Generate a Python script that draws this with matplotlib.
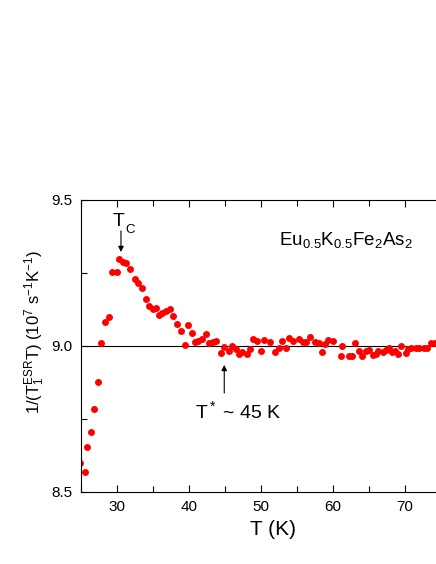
import numpy as np
import matplotlib
matplotlib.use('Agg')
import matplotlib.pyplot as plt
from matplotlib.ticker import MultipleLocator

plt.rcParams['font.family'] = ['Liberation Sans', 'DejaVu Sans']
plt.rcParams['mathtext.fontset'] = 'custom'
plt.rcParams['mathtext.rm'] = 'Liberation Sans'
plt.rcParams['mathtext.it'] = 'Liberation Sans'
plt.rcParams['mathtext.default'] = 'regular'

# temperature (K) and 1/(T1 T) in 10^7 s^-1 K^-1
temp = [24.9, 25.5, 25.9, 26.4, 26.8, 27.3, 27.8, 28.3, 28.9, 29.3,
        29.95, 30.3, 30.9, 31.3, 31.8, 32.45, 32.95, 33.5, 34.0, 34.4,
        34.95, 35.4, 35.9, 36.3, 36.8, 37.4, 37.8, 38.3, 38.9, 39.4,
        39.8, 40.4, 40.8, 41.3, 41.8, 42.4, 42.8, 43.3, 43.8, 44.4,
        44.9, 45.5, 46.0, 46.5, 47.0, 47.4, 48.0, 48.5, 48.9, 49.5,
        50.0, 50.4, 51.25, 51.9, 52.5, 52.9, 53.5, 53.9, 54.5, 55.3,
        55.9, 56.3, 56.8, 57.5, 58.05, 58.5, 58.9, 59.35, 59.95, 61.1,
        61.3, 62.2, 62.6, 63.0, 63.6, 64.0, 64.6, 65.0, 65.5, 66.0,
        66.3, 66.9, 67.4, 67.8, 68.2, 68.65, 69.1, 69.5, 70.1, 70.4,
        70.8, 71.5, 72.0, 72.7, 73.1, 73.6, 74.2]
rate = [8.600, 8.567, 8.655, 8.706, 8.785, 8.876, 9.009, 9.083, 9.100, 9.252,
        9.254, 9.298, 9.289, 9.285, 9.263, 9.229, 9.215, 9.200, 9.161, 9.138,
        9.126, 9.129, 9.106, 9.112, 9.120, 9.127, 9.104, 9.074, 9.052, 9.003,
        9.072, 9.043, 9.013, 9.017, 9.025, 9.041, 9.011, 9.015, 9.018, 8.975,
        8.998, 8.984, 9.000, 8.989, 8.973, 8.981, 8.971, 8.989, 9.024, 9.017,
        8.983, 9.021, 9.015, 8.981, 8.994, 9.017, 8.992, 9.026, 9.017, 9.024,
        9.015, 9.013, 9.031, 9.015, 9.009, 8.981, 9.006, 9.021, 9.017, 8.967,
        9.001, 8.967, 8.967, 9.009, 8.983, 8.967, 8.983, 8.986, 8.969, 8.971,
        8.983, 8.978, 8.986, 8.992, 8.981, 8.983, 8.971, 9.001, 8.975, 8.990,
        8.994, 8.994, 8.994, 8.994, 8.992, 9.009, 9.009]

ref_level = 9.0
tc = 30.55
tstar = 44.9

fig = plt.figure(figsize=(4.36, 5.64), dpi=100)
# axes runs off the right edge of the figure like in the original
ax = fig.add_axes([0.1858, 0.1277, 0.875, 0.5177])

ax.axhline(ref_level, color='black', lw=0.8, zorder=1)
ax.plot(temp, rate, 'o', color='#ff0000', ms=5, mec='none', zorder=2)

ax.set_xlim(25, 78)
ax.set_ylim(8.5, 9.5)
ax.xaxis.set_major_locator(MultipleLocator(10))
ax.xaxis.set_minor_locator(MultipleLocator(5))
ax.yaxis.set_major_locator(MultipleLocator(0.5))
ax.yaxis.set_minor_locator(MultipleLocator(0.25))
ax.yaxis.set_major_formatter(matplotlib.ticker.FormatStrFormatter('%.1f'))
ax.tick_params(which='both', direction='in', top=True, right=True,
               width=0.8, labelsize=11, pad=6)
ax.tick_params(which='major', length=5)
ax.tick_params(which='minor', length=4)
for s in ax.spines.values():
    s.set_linewidth(0.8)

ax.set_xlabel('T (K)', fontsize=15)
ax.xaxis.set_label_coords(0.503, -0.096)
ax.xaxis.label.set_va('top')
ax.set_ylabel(r'1/(T$_1^{ESR}$T) (10$^7$ s$^{-1}$K$^{-1}$)', fontsize=12)
ax.yaxis.set_label_coords(-0.09, 0.548)

arrow = dict(arrowstyle='-|>', lw=0.8, color='black', mutation_scale=8,
             shrinkA=0, shrinkB=0)
ax.annotate('', xy=(tc, 9.322), xytext=(tc, 9.394), arrowprops=arrow)
ax.text(29.45, 9.411, 'T', fontsize=14, ha='left', va='baseline')
ax.text(31.15, 9.387, 'C', fontsize=9.5, ha='left', va='baseline')
ax.annotate('', xy=(tstar, 8.935), xytext=(tstar, 8.839), arrowprops=arrow)
ax.text(40.8, 8.753, r'T$^*$ ~ 45 K', fontsize=14, ha='left', va='baseline')
ax.text(52.5, 9.346, r'Eu$_{0.5}$K$_{0.5}$Fe$_2$As$_2$', fontsize=13.5,
        ha='left', va='baseline')

fig.savefig('out.png', dpi=100)
